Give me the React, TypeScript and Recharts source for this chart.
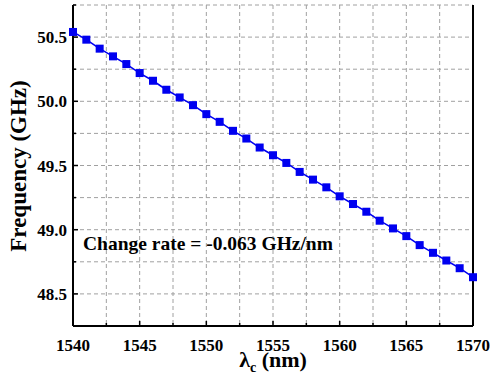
import React from 'react';
import { LineChart, Line, XAxis, YAxis, CartesianGrid } from 'recharts';

// Centre wavelength (nm) and measured frequency (GHz)
const wavelengths = [
  1540, 1541, 1542, 1543, 1544, 1545, 1546, 1547, 1548, 1549, 1550,
  1551, 1552, 1553, 1554, 1555, 1556, 1557, 1558, 1559, 1560,
  1561, 1562, 1563, 1564, 1565, 1566, 1567, 1568, 1569, 1570,
];
const frequency = [
  50.54, 50.48, 50.41, 50.35, 50.29, 50.22, 50.16, 50.09, 50.03, 49.97, 49.9,
  49.84, 49.77, 49.71, 49.64, 49.58, 49.52, 49.45, 49.39, 49.33, 49.26,
  49.2, 49.14, 49.07, 49.01, 48.95, 48.88, 48.82, 48.76, 48.7, 48.63,
];

const xTicks = [1540, 1542.5, 1545, 1547.5, 1550, 1552.5, 1555, 1557.5, 1560, 1562.5, 1565, 1567.5, 1570];
const xLabels = [1540, 1545, 1550, 1555, 1560, 1565, 1570];
const yTicks = [48.25, 48.5, 48.75, 49, 49.25, 49.5, 49.75, 50, 50.25, 50.5, 50.75];
const yLabels = [48.5, 49, 49.5, 50, 50.5];

const data = wavelengths.map((w, i) => ({ w, f: frequency[i] }));

const FONT = 'Liberation Serif, DejaVu Serif, serif';
const MAJOR = 5;
const MINOR = 3;

const BottomTick = (props: any) => {
  const { x, y, payload } = props;
  const major = xLabels.includes(payload.value);
  return (
    <g>
      <line x1={x} x2={x} y1={y} y2={y - (major ? MAJOR : MINOR)} stroke="#000" strokeWidth={1.5} />
      {major && (
        <text x={x} y={y + 25} textAnchor="middle" style={{ fontFamily: FONT, fontWeight: 700, fontSize: 17 }} fill="#000">
          {payload.value}
        </text>
      )}
    </g>
  );
};

const TopTick = (props: any) => {
  const { x, y, payload } = props;
  const major = xLabels.includes(payload.value);
  return <line x1={x} x2={x} y1={y} y2={y + (major ? MAJOR : MINOR)} stroke="#000" strokeWidth={1.5} />;
};

const LeftTick = (props: any) => {
  const { x, y, payload } = props;
  const major = yLabels.includes(payload.value);
  return (
    <g>
      <line x1={x} x2={x + (major ? MAJOR : MINOR)} y1={y} y2={y} stroke="#000" strokeWidth={1.5} />
      {major && (
        <text x={x - 6} y={y + 6} textAnchor="end" style={{ fontFamily: FONT, fontWeight: 700, fontSize: 17 }} fill="#000">
          {payload.value.toFixed(1)}
        </text>
      )}
    </g>
  );
};

const RightTick = (props: any) => {
  const { x, y, payload } = props;
  const major = yLabels.includes(payload.value);
  return <line x1={x} x2={x - (major ? MAJOR : MINOR)} y1={y} y2={y} stroke="#000" strokeWidth={1.5} />;
};

const SquareDot = (props: any) => {
  const { cx, cy, index } = props;
  if (cx == null || cy == null) return null;
  return <rect key={index} x={cx - 4} y={cy - 4} width={8} height={8} fill="#0000f0" />;
};

const XTitle = (props: any) => {
  const { viewBox } = props;
  const cx = viewBox.x + viewBox.width / 2;
  return (
    <text x={cx} y={viewBox.y + 41} textAnchor="middle" style={{ fontFamily: FONT, fontWeight: 700, fontSize: 22 }} fill="#000">
      <tspan>λ</tspan>
      <tspan fontSize={14} dy={5}>c</tspan>
      <tspan dy={-5}> (nm)</tspan>
    </text>
  );
};

export default function App() {
  return (
    <div style={{ position: 'absolute', left: 0, top: 0, width: 490, height: 381, background: '#fff' }}>
      <LineChart width={490} height={381} data={data} margin={{ top: 5, right: 0, left: 0, bottom: 0 }}>
        <CartesianGrid stroke="#a0a0a0" strokeDasharray="4 3" strokeWidth={1} />
        <XAxis
          dataKey="w"
          type="number"
          domain={[1540, 1570]}
          ticks={xTicks}
          interval={0}
          height={55}
          tickSize={0}
          tickMargin={0}
          axisLine={{ stroke: '#000', strokeWidth: 2 }}
          tickLine={false}
          tick={<BottomTick />}
          label={<XTitle />}
        />
        <XAxis
          xAxisId="top"
          orientation="top"
          dataKey="w"
          type="number"
          domain={[1540, 1570]}
          ticks={xTicks}
          interval={0}
          height={0}
          tickSize={0}
          tickMargin={0}
          axisLine={{ stroke: '#000', strokeWidth: 2 }}
          tickLine={false}
          tick={<TopTick />}
        />
        <YAxis
          type="number"
          domain={[48.25, 50.75]}
          ticks={yTicks}
          interval={0}
          width={73}
          tickSize={0}
          tickMargin={0}
          axisLine={{ stroke: '#000', strokeWidth: 2 }}
          tickLine={false}
          tick={<LeftTick />}
        />
        <YAxis
          yAxisId="right"
          orientation="right"
          type="number"
          domain={[48.25, 50.75]}
          ticks={yTicks}
          interval={0}
          width={17}
          tickSize={0}
          tickMargin={0}
          axisLine={{ stroke: '#000', strokeWidth: 2 }}
          tickLine={false}
          tick={<RightTick />}
        />
        <Line
          dataKey="f"
          stroke="#0000f0"
          strokeWidth={1.5}
          dot={<SquareDot />}
          activeDot={false}
          isAnimationActive={false}
        />
      </LineChart>
      <div
        style={{
          position: 'absolute',
          left: 18,
          top: 166,
          transform: 'translate(-50%, -50%) rotate(-90deg)',
          whiteSpace: 'nowrap',
          fontFamily: FONT,
          fontWeight: 700,
          fontSize: 23,
          lineHeight: 1,
        }}
      >
        Frequency (GHz)
      </div>
      <div
        style={{
          position: 'absolute',
          left: 83,
          top: 234,
          whiteSpace: 'nowrap',
          fontFamily: FONT,
          fontWeight: 700,
          fontSize: 19.5,
          lineHeight: 1,
        }}
      >
        Change rate = -0.063 GHz/nm
      </div>
    </div>
  );
}
